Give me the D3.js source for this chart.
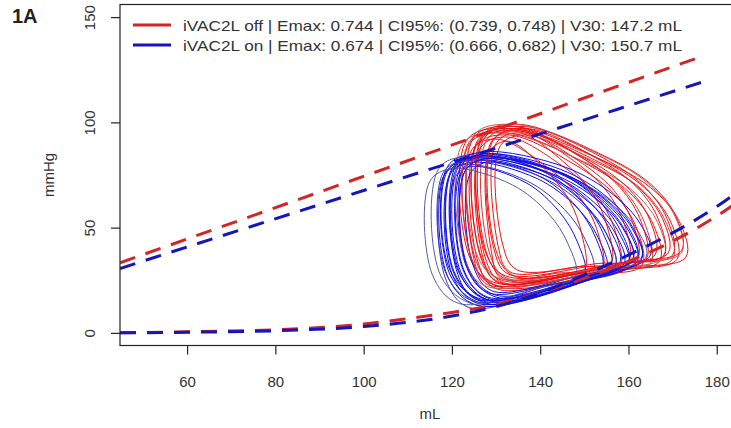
<!DOCTYPE html>
<html><head><meta charset="utf-8">
<script src="https://cdn.jsdelivr.net/npm/d3@7"></script>
<style>html,body{margin:0;padding:0;background:#fff;}svg{display:block;font-family:"Liberation Sans",Arial,sans-serif;}</style>
</head><body>
<svg id="chart" width="731" height="428"></svg>
<script>
// ---- data ----
const xTicks = [60, 80, 100, 120, 140, 160, 180];
const yTicks = [0, 50, 100, 150];
const xLabel = "mL";
const yLabel = "mmHg";
const panelLabel = "1A";
const seriesNames = ["iVAC2L off | Emax: 0.744 | CI95%: (0.739, 0.748) | V30: 147.2 mL",
                     "iVAC2L on | Emax: 0.674 | CI95%: (0.666, 0.682) | V30: 150.7 mL"];

// end-systolic pressure-volume relation (dashed, upper)
const espvrOff = [[44.8, 33.3], [177.2, 131.8]];
const espvrOn  = [[44.8, 30.6], [178.3, 120.2]];
// end-diastolic pressure-volume relation (dashed, lower)
const edpvrOff = [[44.8,0.1],[60,0.5],[80,1.5],[100,4.2],[110,6.8],[120,9.7],[130,13.5],[140,19],[150,26],[160,34],[170,43.5],[180,55.5],[186,64]];
const edpvrOn  = [[44.8,0],[60,0.3],[80,1.0],[100,3.0],[110,5.0],[120,8.0],[130,12.5],[140,19],[150,27.5],[160,37],[170,47.5],[180,60],[186,69]];

// PV loops, iVAC2L off (red)
const loopsOff = [
 [[173,36],[171.5,53],[165,69],[153,83],[133.5,97],[123.5,92],[124,36],[129.5,24],[159,31]],
 [[171,35],[169.6,52.6],[163.6,69],[152.6,83.5],[134.2,98],[125,93],[125.5,34],[130.5,22],[158,29.8]],
 [[169,38],[167.7,54.2],[162.1,69.3],[151.8,82.7],[134.6,96],[126,91],[126.5,37],[131.2,25],[157,32.8]],
 [[167,34],[165.7,51.1],[160.1,66.9],[149.8,81],[132.6,95],[124,90],[124.5,35],[129.2,23],[155,29.6]],
 [[170,37],[168.7,54.4],[163.1,70.5],[152.8,84.7],[135.6,99],[127,94],[127.5,39],[132.2,27],[158,33]],
 [[165,33],[163.9,50.9],[159.1,67.6],[150.2,82.3],[135.4,97],[128,92],[128.5,38],[132.4,26],[154.6,30.2]],
 [[163,32],[161.9,49.4],[157,65.5],[148,79.7],[133,94],[125.5,89],[126,33],[130,21],[152.5,27.6]],
 [[160,34],[159.1,51.4],[155,67.5],[147.6,81.7],[135.2,96],[129,91],[129.5,40],[132.7,28],[151.3,31.6]],
 [[158,31],[157,48.4],[153,64.5],[145.4,78.7],[132.8,93],[126.5,88],[127,36],[130.3,24],[149.2,28.2]],
 [[156,33],[155.2,50.4],[151.8,66.5],[145.6,80.7],[135.2,95],[130,90],[130.5,41],[133.1,29],[148.7,31.4]],
 [[154,30],[153.1,47.4],[149.3,63.5],[142.2,77.7],[130.4,92],[124.5,87],[125,35],[128,23],[145.7,27.2]],
 [[162,35],[161.1,51.5],[157,66.9],[149.6,80.4],[137.2,94],[131,89],[131.5,42],[134.7,30],[153.3,33]],
 [[172,39],[170.7,55.5],[164.9,70.9],[154.2,84.4],[136.4,98],[127.5,93],[128,37],[132.8,25],[159.5,33.4]],
 [[168,36],[166.6,52.5],[160.7,67.9],[149.8,81.4],[131.6,95],[122.5,90],[123,34],[128,22],[155.3,30.4]],
 [[150,30],[149.4,47.1],[146.6,62.9],[141.4,77],[132.8,91],[128.5,86],[129,38],[131.1,26],[144,28.4]],
 [[166,37],[164.8,53.8],[159.6,69.4],[150,83.2],[134,97],[126,92],[126.5,36],[130.8,24],[154.8,31.8]],
 [[170,35],[168.6,52.1],[162.6,68.9],[151.6,82],[133.2,96],[124,91],[124.5,35],[129.5,23],[157.1,30.2]],
 [[164,35],[162.9,52.6],[158.1,69],[149.2,83.5],[134.4,98],[127,93],[127.5,36],[131.4,24],[153.6,30.6]],
 [[172,38],[170.6,55.1],[164.5,70.9],[153.2,85],[134.4,99],[125,94],[125.5,38],[130.6,26],[158.8,33.2]],
 [[168,37],[166.8,53.8],[161.8,69.4],[152.6,83.2],[137.2,97],[129.5,92],[130,39],[134.1,27],[157.2,33]]
];
// PV loops, iVAC2L on (blue)
const loopsOn = [
 [[164,36],[161.5,50.4],[155.2,63.8],[143.4,76.8],[123.8,84],[117,78],[117.5,27],[125.8,13],[151.8,25.7]],
 [[162,34],[159.8,49.3],[153.9,63.6],[143.1,77.3],[125.1,85],[119,79],[119.5,28],[126.9,14],[150.8,25]],
 [[160,32],[157.9,47.3],[152.4,61.6],[142.4,75.3],[125.6,83],[120,77],[120.5,29],[127.2,15],[149.5,24.4]],
 [[158,33],[156,48.3],[151,62.6],[141.6,76.3],[126,84],[121,78],[121.5,30],[127.6,16],[148.2,25.4]],
 [[157,31],[155.2,46.3],[150.3,60.6],[141.5,74.3],[126.7,82],[122,76],[122.5,31],[128.1,17],[147.8,24.7]],
 [[155,30],[153.1,45.3],[148.3,59.6],[139.3,73.3],[124.3,81],[119.5,75],[120,28],[125.8,14],[145.6,22.8]],
 [[161,35],[159,49.4],[153.8,62.8],[144.2,75.8],[128.2,83],[123,77],[123.5,32],[129.8,18],[151,27.4]],
 [[152,29],[150.2,44.3],[145.5,58.6],[136.9,72.3],[122.5,80],[118,74],[118.5,26],[123.9,12],[143,21.4]],
 [[163,36],[160.8,50.7],[155.2,64.4],[144.7,77.6],[127.3,85],[121.5,79],[122,29],[129.1,15],[152.1,26.6]],
 [[150,28],[148.4,43.3],[144.3,57.6],[136.8,71.3],[124.2,79],[120.5,73],[121,30],[125.4,16],[142.1,22.6]],
 [[156,32],[154.2,47.6],[149.6,62.2],[141.1,76.2],[126.9,84],[122.5,78],[123,33],[128.3,19],[147.1,26.2]],
 [[159,33],[156.9,47.7],[151.4,61.4],[141.2,74.7],[124.2,82],[118.5,76],[119,27],[125.9,13],[148.4,24]],
 [[154,31],[152.4,46],[148.2,60],[140.6,73.5],[127.8,81],[124,75],[124.5,34],[129,20],[146,26]],
 [[161,35],[158.8,49.4],[153.1,62.8],[142.5,75.8],[124.9,83],[119,77],[119.5,30],[126.7,16],[150,26.5]],
 [[148,27],[146.3,42.3],[141.9,56.6],[133.7,70.3],[120.1,78],[115,72],[115.5,28],[121.5,14],[139.5,21.2]],
 [[165,37],[162.7,51.7],[156.7,65.4],[145.7,78.7],[127.3,86],[121,80],[121.5,29],[129.1,15],[153.5,27.1]],
 [[163,35],[160.8,49.7],[154.9,63.4],[144.1,76.7],[126.1,84],[120,78],[120.5,28],[127.9,14],[151.8,25.6]],
 [[160,34],[158,49.3],[152.8,63.6],[143.2,77.3],[127.2,85],[122,79],[122.5,30],[128.8,16],[150,25.9]],
 [[157,32],[155,47],[149.6,61],[139.8,74.5],[123.4,82],[118,76],[118.5,29],[125,15],[146.8,24.4]],
 [[162,36],[160,50.1],[154.6,63.3],[144.8,76],[128.4,83],[123,77],[123.5,31],[130,17],[151.8,27.5]]
];

// ---- drawing ----
const svg = d3.select("#chart");
const pLeft = 120, pRight = 739.7, pTop = 4.5, pBottom = 345.5;
const x = d3.scaleLinear().domain([44.8, 185.2]).range([pLeft, pRight]);
const y = d3.scaleLinear().domain([-6, 156]).range([pBottom, pTop]);

const RED = "#f01010", BLUE = "#1010e8";
const redMuted = ["#c25a5a", "#d03838"];
const blueMuted = ["#5a5aa8", "#3a3ac4"];

svg.append("defs").append("clipPath").attr("id", "plotclip")
  .append("rect").attr("x", pLeft).attr("y", pTop).attr("width", pRight - pLeft).attr("height", pBottom - pTop);

const plot = svg.append("g").attr("clip-path", "url(#plotclip)");

const loopLine = d3.line().x(d => x(d[0])).y(d => y(d[1])).curve(d3.curveCatmullRomClosed.alpha(0.5));
const n = Math.max(loopsOff.length, loopsOn.length);
for (let i = 0; i < n; i++) {
  if (loopsOff[i]) {
    const c = (i === 13 || i === 18) ? redMuted[0] : (i === 5 || i === 16 ? redMuted[1] : RED);
    plot.append("path").attr("d", loopLine(loopsOff[i])).attr("fill", "none")
      .attr("stroke", c).attr("stroke-width", 1);
  }
  if (loopsOn[i]) {
    const c = (i === 0 || i === 14) ? blueMuted[0] : (i === 7 || i === 18 ? blueMuted[1] : BLUE);
    plot.append("path").attr("d", loopLine(loopsOn[i])).attr("fill", "none")
      .attr("stroke", c).attr("stroke-width", 1);
  }
}

const relLine = d3.line().x(d => x(d[0])).y(d => y(d[1])).curve(d3.curveMonotoneX);
const dashed = [[espvrOff, "#d42525"], [espvrOn, "#1515c0"], [edpvrOff, "#d42525"], [edpvrOn, "#1515c0"]];
dashed.forEach(([data, col]) => {
  plot.append("path").attr("d", relLine(data)).attr("fill", "none")
    .attr("stroke", col).attr("stroke-width", 3).attr("stroke-dasharray", "16,11");
});

// box
svg.append("rect").attr("x", pLeft).attr("y", pTop).attr("width", pRight - pLeft).attr("height", pBottom - pTop)
  .attr("fill", "none").attr("stroke", "#222").attr("stroke-width", 1.2);

// x axis
const xa = svg.append("g").attr("transform", `translate(0,${pBottom})`)
  .call(d3.axisBottom(x).tickValues(xTicks).tickSize(9).tickPadding(22).tickFormat(d3.format("d")));
xa.select(".domain").remove();
xa.selectAll("line").attr("stroke", "#222").attr("stroke-width", 1.2);
xa.selectAll("text").attr("font-size", 15).attr("fill", "#333").style("font-family", "Liberation Sans, Arial, sans-serif");

// y axis
const ya = svg.append("g").attr("transform", `translate(${pLeft},0)`)
  .call(d3.axisLeft(y).tickValues(yTicks).tickSize(9).tickFormat(d3.format("d")));
ya.select(".domain").remove();
ya.selectAll("line").attr("stroke", "#222").attr("stroke-width", 1.2);
ya.selectAll("text").attr("font-size", 15).attr("fill", "#333")
  .attr("transform", "rotate(-90)").attr("x", 0).attr("y", -25).attr("dy", 0)
  .attr("text-anchor", "middle").style("font-family", "Liberation Sans, Arial, sans-serif");

// axis titles
svg.append("text").attr("x", (pLeft + pRight) / 2).attr("y", 419).attr("text-anchor", "middle")
  .attr("font-size", 15).attr("fill", "#333").text(xLabel);
svg.append("text").attr("transform", `translate(54,${(pTop + pBottom) / 2}) rotate(-90)`)
  .attr("text-anchor", "middle").attr("font-size", 15).attr("fill", "#333").text(yLabel);

// panel label
svg.append("text").attr("x", 12).attr("y", 23).attr("font-size", 20).attr("font-weight", "bold")
  .attr("fill", "#222").text(panelLabel);

// legend
const legCols = ["#d42525", "#1515c0"];
seriesNames.forEach((s, i) => {
  const yy = 25 + i * 20;
  svg.append("line").attr("x1", 133).attr("x2", 171).attr("y1", yy).attr("y2", yy)
    .attr("stroke", legCols[i]).attr("stroke-width", 3);
  svg.append("text").attr("x", 183).attr("y", yy + 5.5).attr("font-size", 15).attr("fill", "#333")
    .attr("textLength", 499).attr("lengthAdjust", "spacingAndGlyphs").text(s);
});
</script>
</body></html>
